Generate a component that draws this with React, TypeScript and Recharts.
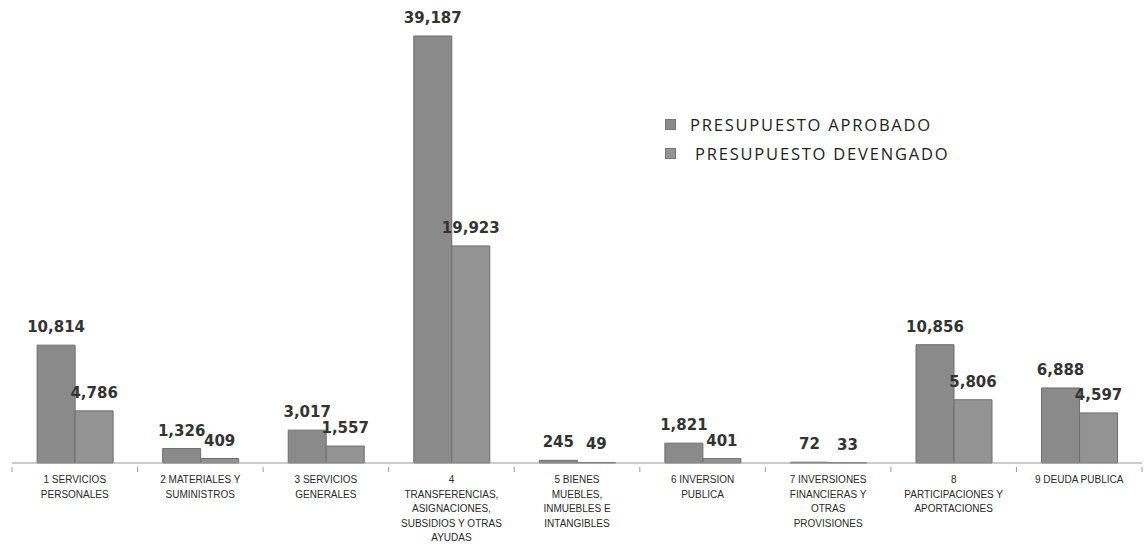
import React from "react";
import { BarChart, Bar, XAxis, YAxis, LabelList } from "recharts";

const categories = [
  "1 SERVICIOS PERSONALES",
  "2 MATERIALES Y SUMINISTROS",
  "3 SERVICIOS GENERALES",
  "4 TRANSFERENCIAS, ASIGNACIONES, SUBSIDIOS Y OTRAS AYUDAS",
  "5 BIENES MUEBLES, INMUEBLES E INTANGIBLES",
  "6 INVERSION PUBLICA",
  "7 INVERSIONES FINANCIERAS Y OTRAS PROVISIONES",
  "8 PARTICIPACIONES Y APORTACIONES",
  "9 DEUDA PUBLICA",
];

const tickLines: string[][] = [
  ["1 SERVICIOS", "PERSONALES"],
  ["2 MATERIALES Y", "SUMINISTROS"],
  ["3 SERVICIOS", "GENERALES"],
  ["4", "TRANSFERENCIAS,", "ASIGNACIONES,", "SUBSIDIOS Y OTRAS", "AYUDAS"],
  ["5 BIENES", "MUEBLES,", "INMUEBLES E", "INTANGIBLES"],
  ["6 INVERSION", "PUBLICA"],
  ["7 INVERSIONES", "FINANCIERAS Y", "OTRAS", "PROVISIONES"],
  ["8", "PARTICIPACIONES Y", "APORTACIONES"],
  ["9 DEUDA PUBLICA"],
];

const aprobado = [10814, 1326, 3017, 39187, 245, 1821, 72, 10856, 6888];
const devengado = [4786, 409, 1557, 19923, 49, 401, 33, 5806, 4597];

const seriesNames = ["PRESUPUESTO APROBADO", "PRESUPUESTO DEVENGADO"];
const seriesColors = ["#8a8a8a", "#939393"];

const data = categories.map((c, i) => ({
  name: c,
  aprobado: aprobado[i],
  devengado: devengado[i],
}));

const fmt = (v: any) => Number(v).toLocaleString("en-US");

const CustomTick = (props: any) => {
  const { x, y, payload, index } = props;
  const idx = payload.index ?? index;
  const lines = tickLines[idx] || [];
  const half = 1130 / 9 / 2;
  return (
    <g>
      <line x1={x - half} x2={x - half} y1={y - 4} y2={y + 1} stroke="#999" />
      {idx === categories.length - 1 && (
        <line x1={x + half} x2={x + half} y1={y - 4} y2={y + 1} stroke="#999" />
      )}
      <text
        x={x}
        y={y + 12}
        textAnchor="middle"
        fontFamily="Liberation Sans, Arial, sans-serif"
        fontSize={10}
        fill="#2a2a2a"
      >
        {lines.map((l, k) => (
          <tspan key={k} x={x} dy={k === 0 ? 0 : 14.5}>
            {l}
          </tspan>
        ))}
      </text>
    </g>
  );
};

const LegendBox = () => (
  <div
    style={{
      position: "absolute",
      left: 665,
      top: 110,
      fontFamily: "Open Sans, sans-serif",
      fontSize: 16.5,
      color: "#222",
      letterSpacing: 1.8,
    }}
  >
    {seriesNames.map((n, i) => (
      <div
        key={n}
        style={{ display: "flex", alignItems: "center", height: 29 }}
      >
        <span
          style={{
            display: "inline-block",
            width: 9,
            height: 9,
            background: seriesColors[i],
            border: "1px solid #777",
            marginRight: i === 0 ? 14 : 19,
          }}
        />
        <span>{n}</span>
      </div>
    ))}
  </div>
);

export default function App() {
  const labelStyle = {
    fontFamily: "DejaVu Sans, Verdana, sans-serif",
    fontSize: 15,
    fontWeight: 700,
    fill: "#333",
  };
  return (
    <div
      style={{
        position: "absolute",
        left: 0,
        top: 0,
        width: 1145,
        height: 554,
        background: "#fff",
      }}
    >
      <BarChart
        width={1145}
        height={554}
        data={data}
        margin={{ top: 36, right: 3, left: 12, bottom: 0 }}
        barCategoryGap="20%"
        barGap={0}
      >
        <XAxis
          dataKey="name"
          interval={0}
          height={91}
          tickLine={false}
          axisLine={{ stroke: "#999" }}
          tick={<CustomTick />}
        />
        <YAxis hide domain={[0, 39187]} />
        <Bar
          dataKey="aprobado"
          fill={seriesColors[0]}
          stroke="#6e6e6e"
          strokeWidth={1}
          isAnimationActive={false}
        >
          <LabelList
            dataKey="aprobado"
            position="top"
            offset={13}
            formatter={fmt}
            style={labelStyle}
          />
        </Bar>
        <Bar
          dataKey="devengado"
          fill={seriesColors[1]}
          stroke="#6e6e6e"
          strokeWidth={1}
          isAnimationActive={false}
        >
          <LabelList
            dataKey="devengado"
            position="top"
            offset={13}
            formatter={fmt}
            style={labelStyle}
          />
        </Bar>
      </BarChart>
      <LegendBox />
    </div>
  );
}
